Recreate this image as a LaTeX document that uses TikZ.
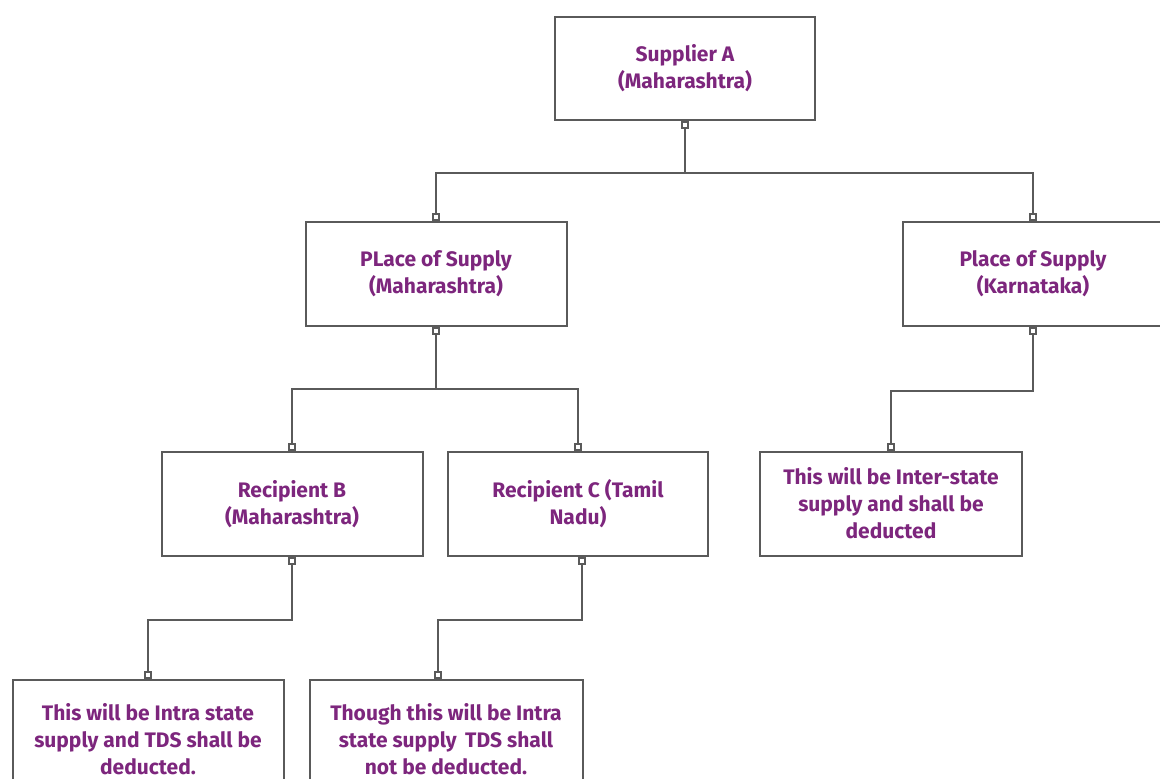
\documentclass[tikz,border=0pt]{standalone}
\usepackage{fontspec}
\setmainfont{Fira Sans}
\usetikzlibrary{arrows.meta}
\definecolor{boxgray}{RGB}{90,90,90}
\definecolor{txtpurple}{RGB}{125,38,125}

\begin{document}
\begin{tikzpicture}[x=1pt, y=-1pt,
    stepbox/.style={draw=boxgray, line width=2pt, fill=white, minimum width=261pt,
        minimum height=104pt, align=center, text=txtpurple,
        font=\fontsize{21}{27}\selectfont\bfseries},
    link/.style={draw=boxgray, line width=2pt,
        {Square[open,length=8pt,width=8pt]}-{Square[open,length=8pt,width=8pt]}}]
        % Page frame
        \useasboundingbox (0,0) rectangle (1160,779);
        \clip (0,0) rectangle (1160,779);

        % Top level
        \node[stepbox, minimum width=260pt, minimum height=103pt] (supA) at (685,68.5) {Supplier A\\(Maharashtra)};

        % Places of supply
        \node[stepbox] (posMH) at (436,273.5) {PLace of Supply\\(Maharashtra)};
        \node[stepbox, minimum width=260pt] (posKA) at (1033,273.5) {Place of Supply\\(Karnataka)};

        % Recipients
        \node[stepbox] (recB) at (292,504) {Recipient B\\(Maharashtra)};
        \node[stepbox, minimum width=260pt] (recC) at (578,504) {Recipient C (Tamil\\Nadu)};
        \node[stepbox, minimum width=262pt] (interKA) at (891,503.5) {This will be Inter-state\\supply and shall be\\deducted};

        % Outcomes (cut off at the bottom)
        \node[stepbox, minimum width=271pt, minimum height=118pt] (intraB) at (148,739) {This will be Intra state\\supply and TDS shall be\\deducted.};
        \node[stepbox, minimum width=273pt, minimum height=118pt] (intraC) at (446,739) {Though this will be Intra\\state supply\, TDS shall\\not be deducted.};

        % Connectors
        \draw[link] (supA.south) -- ++(0,52) -| (posMH.north);
        \draw[link] (supA.south) -- ++(0,52) -| (posKA.north);
        \draw[link] (posMH.south) -- ++(0,62) -| (recB.north);
        \draw[link] (posMH.south) -- ++(0,62) -| (recC.north);
        \draw[link] (posKA.south) -- ++(0,64) -| (interKA.north);
        \draw[link] (recB.south) -- ++(0,63) -| (intraB.north);
        \draw[link] ([xshift=4pt]recC.south) -- ++(0,63) -| ([xshift=-8pt]intraC.north);

    \end{tikzpicture}
\end{document}
